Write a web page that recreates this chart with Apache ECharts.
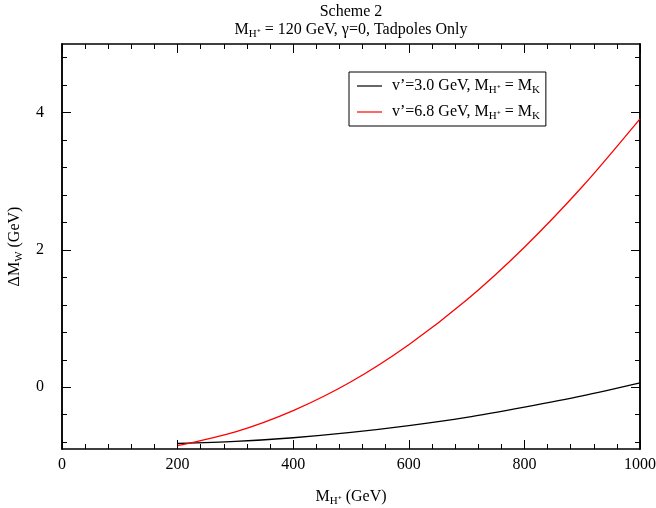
<!DOCTYPE html>
<html>
<head>
<meta charset="utf-8">
<script src="https://cdn.jsdelivr.net/npm/echarts@6/dist/echarts.min.js"></script>
<style>
  html, body { margin: 0; padding: 0; background: #fff; }
  #chart { width: 656px; height: 508px; }
</style>
</head>
<body>
<div id="chart"></div>
<script>
// values
const massH = [200, 300, 400, 500, 600, 700, 800, 900, 1000];
const dmwV3 = [-0.82, -0.79, -0.736, -0.659, -0.56, -0.44, -0.29, -0.127, 0.063];
const dmwV68 = [-0.85, -0.65, -0.34, 0.08, 0.62, 1.27, 2.04, 2.92, 3.91];
const yMajorTicks = [0, 2, 4];
const yMinorTicks = [-0.8, -0.4, 0.4, 0.8, 1.2, 1.6, 2.4, 2.8, 3.2, 3.6, 4.4, 4.8];
const seriesNames = ['v3', 'v68'];
const legendTexts = {
  v3: "v’=3.0 GeV, M{sub|H⁺} = M{sub|K}",
  v68: "v’=6.8 GeV, M{sub|H⁺} = M{sub|K}"
};

const FONT = 'Liberation Serif';
const rich = {
  sub: { fontFamily: FONT, fontSize: 11, color: '#000', padding: [9, 0, 0, 0] }
};

const chart = echarts.init(document.getElementById('chart'));

function pairs(xs, ys) {
  return xs.map((x, i) => [x, ys[i]]);
}

function xAxisOpt(pos, labels) {
  return {
    type: 'value', position: pos, min: 0, max: 1000, interval: 200,
    axisLine: { show: true, onZero: false, lineStyle: { color: '#000', width: 1.5 } },
    axisTick: { show: true, inside: true, length: 9, lineStyle: { color: '#000' } },
    minorTick: { show: true, splitNumber: 5, length: 5, lineStyle: { color: '#000' } },
    axisLabel: { show: labels, color: '#000', fontFamily: FONT, fontSize: 16, margin: 8,
      formatter: (v) => String(v) },
    splitLine: { show: false },
    minorSplitLine: { show: false }
  };
}

function yAxisOpt(pos, ticks, len, labels) {
  return {
    type: 'value', position: pos, min: -0.9, max: 5.0,
    axisLine: { show: true, onZero: false, lineStyle: { color: '#000', width: 1.5 } },
    axisTick: { show: true, inside: true, length: len, customValues: ticks, lineStyle: { color: '#000' } },
    axisLabel: { show: labels, customValues: yMajorTicks, color: '#000', fontFamily: FONT, fontSize: 16, margin: 18 },
    splitLine: { show: false }
  };
}

const yMain = yAxisOpt('left', yMajorTicks, 9, true);
yMain.name = 'ΔM{sub|W} (GeV)';
yMain.nameLocation = 'middle';
yMain.nameRotate = 90;
yMain.nameGap = 37;
yMain.nameTextStyle = { color: '#000', fontFamily: FONT, fontSize: 16, rich: rich };

const xMain = xAxisOpt('bottom', true);
xMain.name = 'M{sub|H⁺} (GeV)';
xMain.nameLocation = 'middle';
xMain.nameGap = 38;
xMain.nameTextStyle = { color: '#000', fontFamily: FONT, fontSize: 16, rich: rich };

const option = {
  animation: false,
  backgroundColor: '#fff',
  grid: { left: 62, right: 16, top: 44, bottom: 59, outerBoundsMode: 'none', containLabel: false },
  graphic: [
    {
      type: 'text', x: 351, y: 12,
      style: { text: 'Scheme 2', fill: '#000', font: '16px "Liberation Serif"',
        align: 'center', verticalAlign: 'middle' }
    },
    {
      type: 'text', x: 351, y: 30,
      style: {
        text: 'M{sub|H⁺} = 120 GeV, γ=0, Tadpoles Only',
        fill: '#000', font: '16px "Liberation Serif"', rich: rich,
        align: 'center', verticalAlign: 'middle'
      }
    }
  ],
  legend: {
    orient: 'vertical',
    left: 349, top: 72,
    data: seriesNames,
    icon: 'rect',
    itemWidth: 25, itemHeight: 1.2,
    itemGap: 8,
    padding: [6, 6, 4, 8],
    borderColor: '#000', borderWidth: 1,
    formatter: (name) => legendTexts[name],
    textStyle: { color: '#000', fontFamily: FONT, fontSize: 16, rich: rich, padding: [0, 0, 0, 5] }
  },
  xAxis: [xMain, xAxisOpt('top', false)],
  yAxis: [
    yMain,
    yAxisOpt('left', yMinorTicks, 5, false),
    yAxisOpt('right', yMajorTicks, 9, false),
    yAxisOpt('right', yMinorTicks, 5, false)
  ],
  series: [
    {
      name: 'v3', type: 'line', smooth: 0.3, showSymbol: false,
      xAxisIndex: 0, yAxisIndex: 0,
      lineStyle: { color: '#000', width: 1.3 }, itemStyle: { color: '#000' },
      data: pairs(massH, dmwV3)
    },
    {
      name: 'v68', type: 'line', smooth: 0.3, showSymbol: false,
      xAxisIndex: 0, yAxisIndex: 0,
      lineStyle: { color: '#ff0000', width: 1.3 }, itemStyle: { color: '#ff0000' },
      data: pairs(massH, dmwV68)
    }
  ]
};

chart.setOption(option);
</script>
</body>
</html>
